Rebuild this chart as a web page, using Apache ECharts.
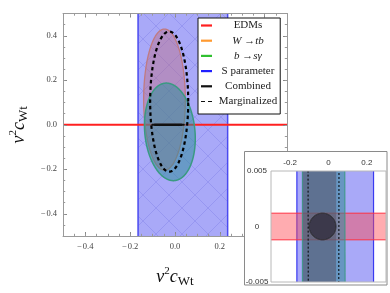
<!DOCTYPE html>
<html><head><meta charset="utf-8">
<script src="https://cdn.jsdelivr.net/npm/echarts@6/dist/echarts.min.js"></script>
<style>html,body{margin:0;padding:0;background:#fff}#c{width:390px;height:293px}</style>
</head><body><div id="c"></div>
<script>
// ---- data ----
const mainRange = [-0.5, 0.5];
const mainXTicks = [-0.4, -0.2, 0.0, 0.2, 0.4];
const mainYTicks = [-0.4, -0.2, 0.0, 0.2, 0.4];
const insetXRange = [-0.3, 0.3];
const insetYRange = [-0.005, 0.005];
const insetXTicks = [-0.2, 0, 0.2];
const insetYTicks = [-0.005, 0, 0.005];
const sParamBand = [-0.165, 0.235];     // S parameter allowed x-range
const edmBand = [-0.0012, 0.0012];      // EDMs allowed y-range
// ellipses: [cx, cy, semiX, semiY, rotationDeg]
const wtbEllipse = [-0.047, 0.113, 0.093, 0.317, 0];
const bsgEllipse = [-0.023, -0.032, 0.112, 0.22, 5.5];
const margEllipse = [-0.026, 0.104, 0.085, 0.315, 0];
const combinedEllipse = [-0.031, 0.0, 0.070, 0.0012, 0];
const legendNames = ['EDMs', 'W \u2192tb', 'b \u2192s\u03b3', 'S parameter', 'Combined', 'Marginalized'];
const legendColors = ['#ff2020', '#ff9a30', '#30c030', '#2020ff', '#111111', '#111111'];

const SERIF = '"Liberation Serif","DejaVu Serif",serif';
const SANS = '"Liberation Sans","DejaVu Sans",sans-serif';

function makePattern() {
  const c = document.createElement('canvas'); c.width = 26; c.height = 26;
  const g = c.getContext('2d');
  g.fillStyle = '#a9a9f8'; g.fillRect(0, 0, 26, 26);
  g.strokeStyle = 'rgba(120,120,230,0.45)'; g.lineWidth = 0.8;
  g.beginPath(); g.moveTo(0, 0); g.lineTo(26, 26); g.moveTo(26, 0); g.lineTo(0, 26); g.stroke();
  return c;
}
const pattern = makePattern();

function ellipseRender(style) {
  return function (params, api) {
    const cx = api.value(0), cy = api.value(1), ax = api.value(2), ay = api.value(3);
    const r = api.value(4) * Math.PI / 180;
    const pts = [];
    const N = 720;
    for (let i = 0; i < N; i++) {
      const t = 2 * Math.PI * i / N;
      const ex = ax * Math.cos(t), ey = ay * Math.sin(t);
      pts.push(api.coord([cx + ex * Math.cos(r) - ey * Math.sin(r), cy + ex * Math.sin(r) + ey * Math.cos(r)]));
    }
    return { type: 'polygon', shape: { points: pts }, style: style };
  };
}
function vBandRender(fill, stroke, lw) {
  return function (params, api) {
    const p1 = api.coord([api.value(0), api.value(2)]);
    const p2 = api.coord([api.value(1), api.value(3)]);
    const x = Math.min(p1[0], p2[0]), y = Math.min(p1[1], p2[1]);
    const w = Math.abs(p2[0] - p1[0]), h = Math.abs(p2[1] - p1[1]);
    return { type: 'group', children: [
      { type: 'rect', shape: { x: x, y: y, width: w, height: h }, style: { fill: fill } },
      { type: 'line', shape: { x1: p1[0], y1: y, x2: p1[0], y2: y + h }, style: { stroke: stroke, lineWidth: lw } },
      { type: 'line', shape: { x1: p2[0], y1: y, x2: p2[0], y2: y + h }, style: { stroke: stroke, lineWidth: lw } }
    ] };
  };
}
function hBandRender(fill, stroke, lw) {
  return function (params, api) {
    const p1 = api.coord([api.value(0), api.value(2)]);
    const p2 = api.coord([api.value(1), api.value(3)]);
    const x = Math.min(p1[0], p2[0]), y = Math.min(p1[1], p2[1]);
    const w = Math.abs(p2[0] - p1[0]), h = Math.abs(p2[1] - p1[1]);
    return { type: 'rect', shape: { x: x, y: y, width: w, height: h }, style: { fill: fill, stroke: stroke, lineWidth: lw } };
  };
}

function mk(name, xi, yi, z, data, render) {
  return { type: 'custom', name: name, xAxisIndex: xi, yAxisIndex: yi, z: z, clip: true, silent: true,
    data: [data], renderItem: render };
}

const series = [
  // main panel
  mk('S parameter', 0, 0, 2, [sParamBand[0], sParamBand[1], mainRange[0], mainRange[1]],
     vBandRender({ image: pattern, repeat: 'repeat' }, '#4a4af0', 1.5)),
  mk('EDMs', 0, 0, 3, [mainRange[0], mainRange[1], edmBand[0], edmBand[1]], hBandRender('#ff3030', '#ff2020', 1.6)),
  mk('W \u2192tb', 0, 0, 4, wtbEllipse, ellipseRender({ fill: 'rgba(190,105,125,0.42)', stroke: '#c07a80', lineWidth: 1.3 })),
  mk('b \u2192s\u03b3', 0, 0, 5, bsgEllipse, ellipseRender({ fill: 'rgba(40,140,150,0.5)', stroke: '#3a9a82', lineWidth: 1.5 })),
  mk('Combined', 0, 0, 6, combinedEllipse, ellipseRender({ fill: '#111', stroke: '#111', lineWidth: 2 })),
  mk('Marginalized', 0, 0, 7, margEllipse, ellipseRender({ fill: 'none', stroke: '#000', lineWidth: 2.2, lineDash: [3.5, 3] })),
  // inset panel
  mk('S parameter', 4, 4, 21, [sParamBand[0], sParamBand[1], mainRange[0], mainRange[1]],
     vBandRender('#a9a9f8', '#3a3af0', 1.2)),
  mk('EDMs', 4, 4, 22, [mainRange[0], mainRange[1], edmBand[0], edmBand[1]], hBandRender('rgba(255,70,80,0.45)', '#ff3040', 1)),
  mk('b \u2192s\u03b3', 4, 4, 23, bsgEllipse, ellipseRender({ fill: 'rgba(50,135,150,0.55)', stroke: '#3a9a82', lineWidth: 1 })),
  mk('W \u2192tb', 4, 4, 24, wtbEllipse, ellipseRender({ fill: 'rgba(85,75,95,0.5)', stroke: 'none' })),
  mk('Combined', 4, 4, 25, combinedEllipse, ellipseRender({ fill: 'rgba(45,40,55,0.72)', stroke: '#333', lineWidth: 1 })),
  mk('Marginalized', 4, 4, 26, margEllipse, ellipseRender({ fill: 'none', stroke: '#000', lineWidth: 1, lineDash: [2, 2] }))
];

const tickLabelMain = { fontFamily: SERIF, fontSize: 8.5, color: '#444' };
function fmtMain(v) { return (v < 0 ? '\u2212\u200a' : '') + Math.abs(v).toFixed(1); }
const axisLineMain = { show: true, onZero: false, lineStyle: { color: '#9a9a9a', width: 1 } };
const nameRich = {
  v: { fontFamily: SERIF, fontStyle: 'italic', fontSize: 18, lineHeight: 22, verticalAlign: 'middle', color: '#111' },
  s: { fontFamily: SERIF, fontSize: 11, lineHeight: 22, verticalAlign: 'top', color: '#111' },
  w: { fontFamily: SERIF, fontSize: 13, lineHeight: 14, verticalAlign: 'bottom', color: '#111' }
};
const axisName = '{v|v}{s|2}{v|c}{w|Wt}';

function majorAxis(pos, ticks, extra) {
  return Object.assign({
    type: 'value', gridIndex: 0, position: pos, min: mainRange[0], max: mainRange[1], z: 5,
    axisLine: axisLineMain,
    axisTick: { show: true, inside: true, length: 4, customValues: ticks, lineStyle: { color: '#888' } },
    axisLabel: { show: false, customValues: ticks },
    splitLine: { show: false }
  }, extra || {});
}
function minorAxis(pos) {
  return {
    type: 'value', gridIndex: 0, position: pos, min: mainRange[0], max: mainRange[1], interval: 0.05, z: 5,
    axisLine: { show: false, onZero: false },
    axisTick: { show: true, inside: true, length: 2.2, lineStyle: { color: '#999' } },
    axisLabel: { show: false }, splitLine: { show: false }
  };
}

const option = {
  animation: false,
  backgroundColor: '#fff',
  grid: [
    { left: 58, top: 13.5, width: 229, height: 228, containLabel: false },
    { left: 271, top: 171, width: 115, height: 111, show: true, borderColor: '#b8b8b8', borderWidth: 1, backgroundColor: 'transparent', z: 29 }
  ],
  xAxis: [
    majorAxis('bottom', mainXTicks, {
      axisLabel: Object.assign({ show: true, customValues: mainXTicks, margin: 6, formatter: fmtMain }, tickLabelMain),
      name: axisName, nameLocation: 'middle', nameGap: 30, nameTextStyle: { rich: nameRich }
    }),
    minorAxis('bottom'),
    majorAxis('top', mainXTicks),
    minorAxis('top'),
    {
      type: 'value', gridIndex: 1, position: 'top', min: insetXRange[0], max: insetXRange[1], z: 30,
      axisLine: { show: false, onZero: false }, axisTick: { show: false }, splitLine: { show: false },
      axisLabel: { customValues: insetXTicks, margin: 4, fontFamily: SANS, fontSize: 8, color: '#333',
        formatter: v => (v === 0 ? '0' : String(v)) }
    }
  ],
  yAxis: [
    majorAxis('left', mainYTicks, {
      axisLabel: Object.assign({ show: true, customValues: mainYTicks, margin: 6, formatter: fmtMain }, tickLabelMain),
      name: axisName, nameLocation: 'middle', nameGap: 33, nameRotate: 90, nameTextStyle: { rich: nameRich }
    }),
    minorAxis('left'),
    majorAxis('right', mainYTicks),
    minorAxis('right'),
    {
      type: 'value', gridIndex: 1, position: 'left', min: insetYRange[0], max: insetYRange[1], interval: 0.005, z: 30,
      axisLine: { show: false, onZero: false }, axisTick: { show: false }, splitLine: { show: false },
      axisLabel: { margin: 14, align: 'center', fontFamily: SANS, fontSize: 8, color: '#333',
        formatter: v => (Math.abs(v) < 1e-9 ? '0' : String(+v.toFixed(3))) }
    }
  ],
  legend: {
    orient: 'vertical', left: 198, top: 18, z: 8, selectedMode: false,
    backgroundColor: '#fff', borderColor: '#111', borderWidth: 1, padding: [2, 3, 7, 3],
    itemWidth: 11, itemHeight: 2.2, itemGap: 4.2,
    data: legendNames.map((n, i) => ({
      name: n,
      icon: n === 'Marginalized' ? 'path://M0,0H4V1H0Z M7,0H11V1H7Z' : 'rect',
      itemStyle: { color: legendColors[i], borderWidth: 0 }
    })),
    formatter: n => (n.indexOf('\u2192') >= 0 ? '{ci|' + n + '}' : '{c|' + n + '}'),
    textStyle: {
      rich: {
        c: { width: 62, align: 'center', fontFamily: SERIF, fontSize: 11, color: '#222' },
        ci: { width: 62, align: 'center', fontFamily: SERIF, fontSize: 11, fontStyle: 'italic', color: '#222' }
      }
    }
  },
  graphic: [
    { type: 'rect', z: 20, shape: { x: 244.5, y: 151.5, width: 142.5, height: 133.5 },
      style: { fill: '#fff', stroke: '#8a8a8a', lineWidth: 1 } }
  ],
  series: series
};

const chart = echarts.init(document.getElementById('c'), null, { renderer: 'canvas' });
chart.setOption(option);
</script>
</body></html>
